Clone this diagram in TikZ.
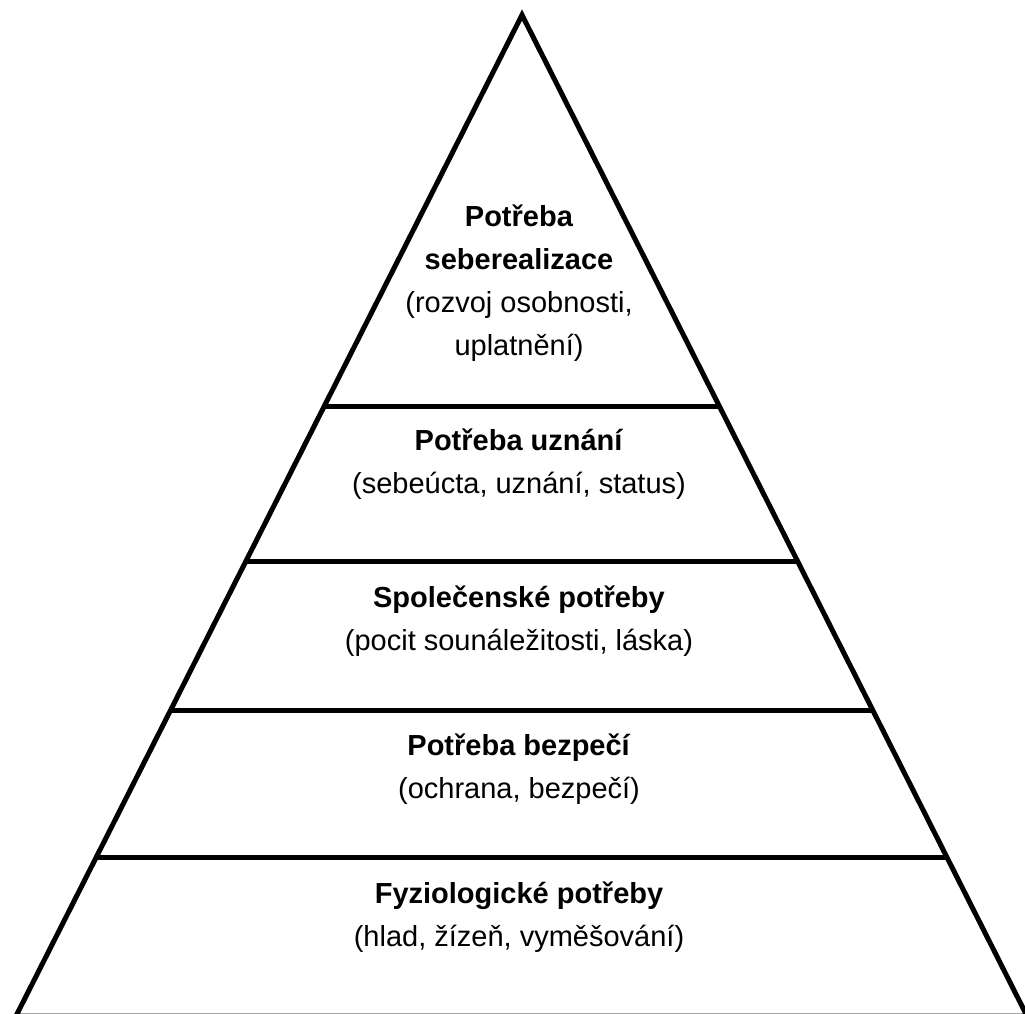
\documentclass[tikz,border=0pt]{standalone}
\usepackage{fontspec}
\setmainfont{Liberation Sans}
\usetikzlibrary{calc}

\tikzset{
  hrana/.style={line width=5pt, line join=miter},
  patro/.style={align=center, font=\fontsize{29}{43}\selectfont, inner sep=0pt}
}

\begin{document}
\begin{tikzpicture}[x=1pt, y=-1pt]
\useasboundingbox (0,0) rectangle (1025,1014);

% Obrys pyramidy
\coordinate (vrchol) at (522,15);
\coordinate (levy) at (16,1016);
\coordinate (pravy) at (1027,1016);
\draw[hrana] (levy) -- (vrchol) -- (pravy) -- cycle;

% Deleni na patra
\foreach \y/\n in {407/a, 562/b, 710/c, 857/d} {
  \coordinate (l\n) at ($(vrchol)!{(\y-15)/1001}!(levy)$);
  \coordinate (p\n) at ($(vrchol)!{(\y-15)/1001}!(pravy)$);
  \draw[hrana] (l\n) -- (p\n);
}

% Popisky
\node[patro] (seberealizace) at (519,283) {\textbf{Potřeba}\\\textbf{seberealizace}\\(rozvoj osobnosti,\\uplatnění)};
\node[patro] (uznani) at (519,464) {\textbf{Potřeba uznání}\\(sebeúcta, uznání, status)};
\node[patro] (spolecenske) at (519,621) {\textbf{Společenské potřeby}\\(pocit sounáležitosti, láska)};
\node[patro] (bezpeci) at (519,769) {\textbf{Potřeba bezpečí}\\(ochrana, bezpečí)};
\node[patro] (fyziologicke) at (519,917) {\textbf{Fyziologické potřeby}\\(hlad, žízeň, vyměšování)};

\end{tikzpicture}
\end{document}
